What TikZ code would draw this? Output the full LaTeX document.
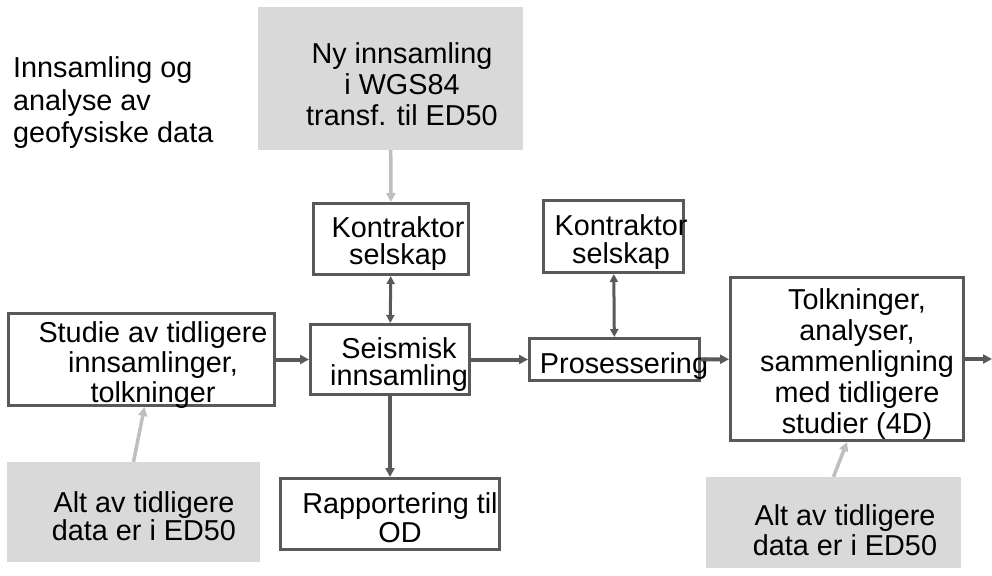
\documentclass[tikz,border=0pt]{standalone}
\usepackage{fontspec}
\setmainfont{Liberation Sans}
\usetikzlibrary{arrows.meta}
\definecolor{boxline}{RGB}{89,89,89}
\definecolor{notefill}{RGB}{217,217,217}
\definecolor{notearrow}{RGB}{191,191,191}

\begin{document}
\begin{tikzpicture}[x=1pt, y=-1pt,
	box/.style={rectangle, draw=boxline, line width=3pt, inner sep=0pt},
	note/.style={rectangle, fill=notefill, inner sep=0pt},
	txt/.style={font=\fontsize{28.8}{#1}\selectfont, align=center, anchor=base, inner sep=0pt},
	txt/.default=31,
	flow/.style={draw=boxline, line width=4pt, -{Triangle[length=9pt,width=9pt]}},
	both/.style={draw=boxline, line width=3pt, {Triangle[length=8pt,width=8pt]}-{Triangle[length=8pt,width=8pt]}},
	hint/.style={draw=notearrow, line width=3.5pt, -{Triangle[length=9pt,width=9pt]}}]
			\useasboundingbox (0,0) rectangle (992,575);
			
			\node[note, minimum width=265, minimum height=143] (ny) at (390.5,78.5){};
			\node[note, minimum width=253, minimum height=100] (altL) at (133.5,512){};
			\node[note, minimum width=255, minimum height=91] (altR) at (833.5,522.5){};
			
			\node[box, minimum width=155, minimum height=71] (kon1) at (391,239){};
			\node[box, minimum width=159, minimum height=70] (seis) at (390,359.5){};
			\node[box, minimum width=266, minimum height=92] (studie) at (141.5,359.5){};
			\node[box, minimum width=219, minimum height=71] (rapp) at (390,514){};
			\node[box, minimum width=140, minimum height=72] (kon2) at (613.5,236.5){};
			\node[box, minimum width=170, minimum height=42] (pros) at (614.5,359.5){};
			\node[box, minimum width=233, minimum height=163] (tolk) at (847,359){};
			\coordinate (out) at (992,359);
			
			\node[txt=32, align=left, anchor=base west] (tittel) at (13,142){Innsamling og\\analyse av\\geofysiske data};
			\node[txt] (nyT) at (402,125){Ny innsamling\\i WGS84\\transf. til ED50};
			\node[txt=27] (kon1T) at (398,264){Kontraktor\\selskap};
			\node[txt=27] (seisT) at (399,385){Seismisk\\innsamling};
			\node[txt=30] (studieT) at (153,402){Studie av tidligere\\innsamlinger,\\tolkninger};
			\node[txt=28] (altLT) at (144,540){Alt av tidligere\\data er i ED50};
			\node[txt=29] (rappT) at (400,542){Rapportering til\\OD};
			\node[txt=28] (kon2T) at (621,263){Kontraktor\\selskap};
			\node[txt] (prosT) at (624,373){Prosessering};
			\node[txt] (tolkT) at (857,433){Tolkninger,\\analyser,\\sammenligning\\med tidligere\\studier (4D)};
			\node[txt=30] (altRT) at (845,555){Alt av tidligere\\data er i ED50};
			
			\path (ny) edge[hint] (kon1);
			\path (altL.north) edge[hint] ([xshift=3pt]studie.south);
			\path (altR.north) edge[hint] (tolk.south);
			\path (kon1) edge[both] (seis);
			\path (kon2) edge[both] (pros);
			\path (studie) edge[flow] (seis);
			\path (seis) edge[flow] (pros);
			\path (seis) edge[flow] (rapp);
			\path (pros) edge[flow] (tolk);
			\path (tolk) edge[flow] (out);
			\end{tikzpicture}
\end{document}
